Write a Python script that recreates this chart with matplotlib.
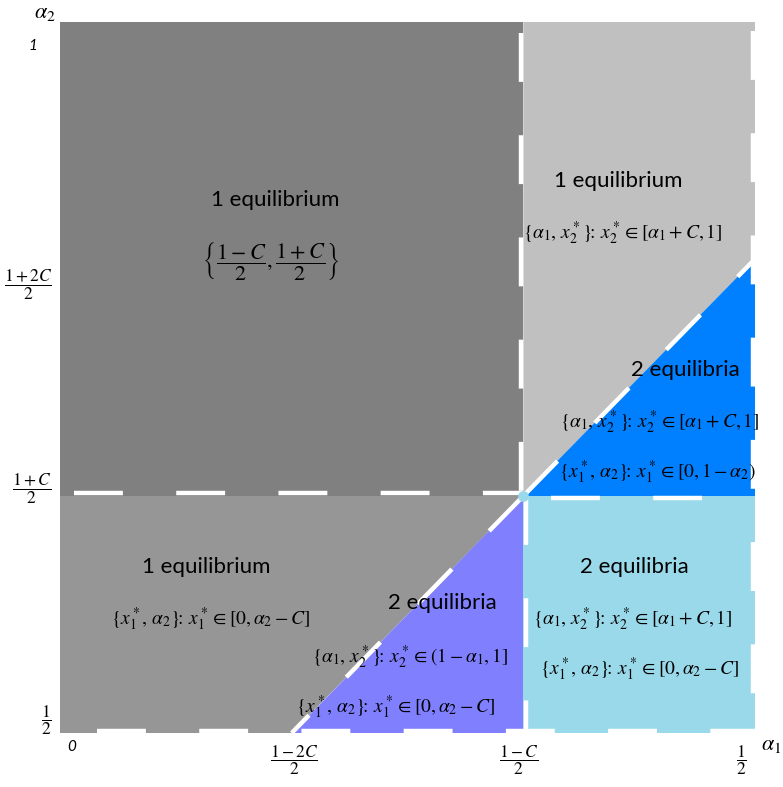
import matplotlib
matplotlib.use('Agg')
import matplotlib.pyplot as plt
from matplotlib.patches import Polygon

plt.rcParams['mathtext.fontset'] = 'stix'
plt.rcParams['font.family'] = ['Lato', 'DejaVu Sans']

# schematic grid: 0 = left/bottom edge, 1..3 = successive boundaries
x_edges = [0, 1, 2, 3]   # 0, (1-2C)/2, (1-C)/2, right edge
y_edges = [0, 1, 2, 3]   # 1/2, (1+C)/2, diagonal end, top edge

region_colors = {
    'top_left': '#808080',
    'top_right': '#c0c0c0',
    'blue': '#0080ff',
    'bottom_left': '#969696',
    'purple': '#8080ff',
    'cyan': '#99d9ea',
}

xtick_pos = [0.03, 1.01, 1.98, 2.94]
xtick_labels = ['0', r'$\dfrac{1-2C}{2}$', r'$\dfrac{1-C}{2}$', r'$\dfrac{1}{2}$']
ytick_pos = [2.90, 1.89, 1.03, 0.055]
ytick_labels = ['1', r'$\dfrac{1+2C}{2}$', r'$\dfrac{1+C}{2}$', r'$\dfrac{1}{2}$']

E_a1_up = r'$\{\alpha_1,\, x_2^*\}\!\!:\,x_2^* \in [\alpha_1 + C, 1]$'
E_x1_open = r'$\{x_1^*,\, \alpha_2\}\!\!:\,x_1^* \in [0, 1-\alpha_2)$'
E_x1_c = r'$\{x_1^*,\, \alpha_2\}\!\!:\,x_1^* \in [0, \alpha_2 - C]$'
E_a1_half = r'$\{\alpha_1,\, x_2^*\}\!\!:\,x_2^* \in (1-\alpha_1, 1]$'
E_center = r'$\left\{\dfrac{1-C}{2}, \dfrac{1+C}{2}\right\}$'

titles = [
    (0.93, 2.25, '1 equilibrium'),
    (2.41, 2.33, '1 equilibrium'),
    (2.70, 1.53, '2 equilibria'),
    (0.63, 0.70, '1 equilibrium'),
    (1.65, 0.55, '2 equilibria'),
    (2.48, 0.70, '2 equilibria'),
]
exprs = [
    (0.91, 1.99, E_center, 16),
    (2.43, 2.11, E_a1_up, 14),
    (2.59, 1.31, E_a1_up, 14),
    (2.58, 1.10, E_x1_open, 14),
    (0.65, 0.48, E_x1_c, 14),
    (1.51, 0.32, E_a1_half, 14),
    (1.45, 0.11, E_x1_c, 14),
    (2.47, 0.48, E_a1_up, 14),
    (2.50, 0.27, E_x1_c, 14),
]

fig = plt.figure(figsize=(7.83, 7.87), dpi=100)
ax = fig.add_axes([60 / 783, 1 - 733 / 787, 695 / 783, 711 / 787])
ax.set_xlim(x_edges[0], x_edges[-1])
ax.set_ylim(y_edges[0], y_edges[-1])

x0, x1, x2, x3 = x_edges
y0, y1, y2, y3 = y_edges
polys = {
    'top_left': [(x0, y1), (x2, y1), (x2, y3), (x0, y3)],
    'top_right': [(x2, y1), (x3, y2), (x3, y3), (x2, y3)],
    'blue': [(x2, y1), (x3, y1), (x3, y2)],
    'bottom_left': [(x0, y0), (x1, y0), (x2, y1), (x0, y1)],
    'purple': [(x1, y0), (x2, y0), (x2, y1)],
    'cyan': [(x2, y0), (x3, y0), (x3, y1), (x2, y1)],
}
for name, pts in polys.items():
    ax.add_patch(Polygon(pts, closed=True, fc=region_colors[name], ec='none'))

dash = dict(color='white', lw=3.2, dashes=(11, 12), solid_capstyle='butt')
ax.plot([x2 - 0.012, x2 - 0.012], [y3 - 0.045, y1], **dash)
ax.plot([x2 + 0.012, x2 + 0.012], [y1, y0], **dash)
ax.plot([x0 + 0.06, x2], [y1 + 0.012, y1 + 0.012], **dash)
ax.plot([x2 + 0.12, x3], [y1 - 0.01, y1 - 0.01], **dash)
ax.plot([x2, x1], [y1, y0], **dash)
ax.plot([x2, x3], [y1, y2], **dash)
ax.plot([x0 + 0.16, x3], [y0 + 0.01, y0 + 0.01], **dash)
ax.plot([x3 - 0.01, x3 - 0.01], [y3 - 0.04, y0], **dash)
ax.scatter([x2], [y1], s=60, color=region_colors['cyan'], zorder=5, lw=0)

for x, y, t in titles:
    ax.text(x, y, t, ha='center', va='center', fontsize=16, color='black')
for x, y, t, fs in exprs:
    ax.text(x, y, t, ha='center', va='center', fontsize=fs, color='black')

for p, lab in zip(xtick_pos, xtick_labels):
    if lab == '0':
        ax.text(p, -0.06, lab, ha='left', va='center', fontsize=11,
                style='italic', clip_on=False)
    else:
        ax.text(p, -0.115, lab, ha='center', va='center', fontsize=12.5, clip_on=False)
for p, lab in zip(ytick_pos, ytick_labels):
    if lab == '1':
        ax.text(-0.1, p, lab, ha='right', va='center', fontsize=11,
                style='italic', clip_on=False)
    else:
        ax.text(-0.035, p, lab, ha='right', va='center', fontsize=12.5, clip_on=False)

ax.text(-0.065, 3.04, r'$\alpha_2$', ha='center', va='center', fontsize=16, clip_on=False)
ax.text(3.115, -0.05, r'$\alpha_1$', ha='right', va='center', fontsize=16, clip_on=False)

ax.set_xticks([])
ax.set_yticks([])
for s in ax.spines.values():
    s.set_visible(False)

fig.savefig('out.png', dpi=100)
